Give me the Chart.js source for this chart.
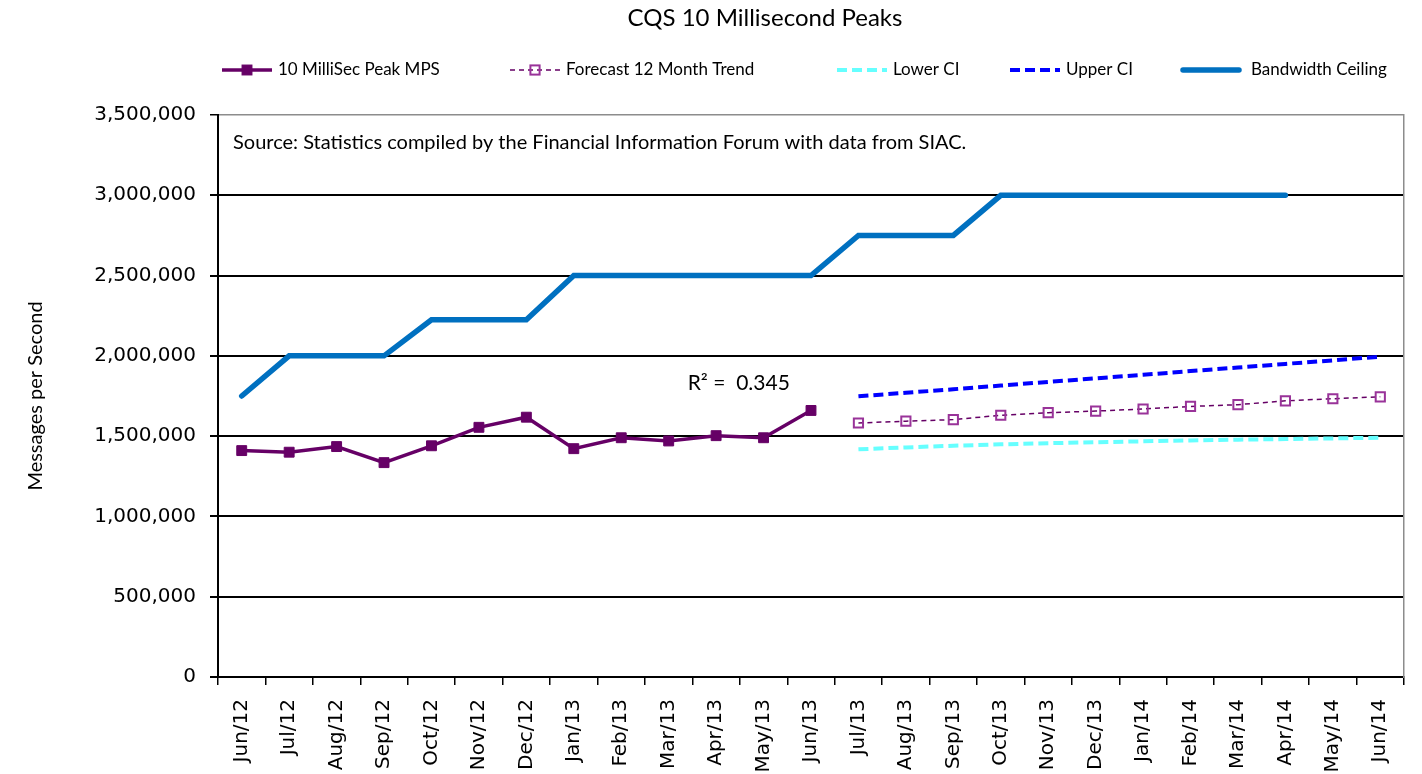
<!DOCTYPE html>
<html>
<head>
<meta charset="utf-8">
<title>CQS 10 Millisecond Peaks</title>
<script src="https://cdn.jsdelivr.net/npm/chart.js@4.4.1/dist/chart.umd.min.js"></script>
<style>
    html, body { margin: 0; padding: 0; background: #fff; }
    canvas { display: block; }
</style>
</head>
<body>
<canvas id="chartPeaks" width="1422" height="774"></canvas>
<script>
/* CQS 10 millisecond peaks – actuals, 12 month forecast and bandwidth ceiling */

// ---- Data ----
const months = [
    "Jun/12", "Jul/12", "Aug/12", "Sep/12", "Oct/12", "Nov/12", "Dec/12",
    "Jan/13", "Feb/13", "Mar/13", "Apr/13", "May/13", "Jun/13",
    "Jul/13", "Aug/13", "Sep/13", "Oct/13", "Nov/13", "Dec/13",
    "Jan/14", "Feb/14", "Mar/14", "Apr/14", "May/14", "Jun/14",
];

const peakMps = [
    1410000, 1400000, 1435000, 1335000, 1440000, 1555000, 1618000,
    1422000, 1490000, 1470000, 1503000, 1490000, 1660000,
    null, null, null, null, null, null, null, null, null, null, null, null,
];

const forecastTrend = [
    null, null, null, null, null, null, null, null, null, null, null, null, null,
    1582000, 1593000, 1603000, 1630000, 1646000, 1656000,
    1669000, 1685000, 1696000, 1720000, 1733000, 1745000,
];

const lowerCI = [
    null, null, null, null, null, null, null, null, null, null, null, null, null,
    1418000, 1430000, 1440000, 1449000, 1456000, 1462000,
    1468000, 1473000, 1478000, 1482000, 1486000, 1490000,
];

const upperCI = [
    null, null, null, null, null, null, null, null, null, null, null, null, null,
    1748000, 1770000, 1792000, 1815000, 1838000, 1860000,
    1882000, 1905000, 1927000, 1950000, 1972000, 1995000,
];

const bandwidthCeiling = [
    1750000, 2000000, 2000000, 2000000, 2225000, 2225000, 2225000,
    2500000, 2500000, 2500000, 2500000, 2500000, 2500000,
    2750000, 2750000, 2750000, 3000000, 3000000, 3000000,
    3000000, 3000000, 3000000, 3000000, null, null,
];

const yTicks = [0, 500000, 1000000, 1500000, 2000000, 2500000, 3000000, 3500000];

const TITLE = "CQS 10 Millisecond Peaks";
const SOURCE_NOTE = "Source: Statistics compiled by the Financial Information Forum with data from SIAC.";
const R2_LABEL = "R\u00B2 =  0.345";
const Y_TITLE = "Messages per Second";

// ---- Palette ----
const COLORS = {
    peak: "#660066",
    forecast: "#660066",
    forecastMarker: "#993399",
    lower: "#66FFFF",
    upper: "#0000FF",
    bandwidth: "#0070C0",
};

const UI_FONT = "Lato, 'Open Sans', sans-serif";
const TICK_FONT = "'DejaVu Sans', Verdana, sans-serif";

// ---- Title, legend and notes drawn on top ----
const overlayPlugin = {
    id: "overlay",
    afterDraw(chart) {
        const { ctx, chartArea, scales } = chart;
        ctx.save();
        ctx.fillStyle = "#000";

        // title
        ctx.font = "24px " + UI_FONT;
        ctx.textAlign = "center";
        ctx.textBaseline = "middle";
        ctx.fillText(TITLE, 765, 18);

        // legend
        const legendX = [222, 510, 837, 1010, 1183];
        const legendY = 70;
        ctx.font = "17px " + UI_FONT;
        ctx.textAlign = "left";
        chart.data.datasets.forEach(function (ds, i) {
            const x0 = legendX[i];
            const len = i === 4 ? 56 : 50;
            ctx.save();
            ctx.strokeStyle = ds.borderColor;
            ctx.lineWidth = ds.borderWidth;
            ctx.lineCap = ds.borderCapStyle || "butt";
            ctx.setLineDash(ds.borderDash || []);
            ctx.beginPath();
            ctx.moveTo(x0, legendY);
            ctx.lineTo(x0 + len, legendY);
            ctx.stroke();
            ctx.setLineDash([]);
            if (ds.pointRadius > 0) {
                const s = ds.pointRadius * Math.SQRT1_2;
                const cx = x0 + len / 2;
                if (ds.pointBackgroundColor !== "transparent") {
                    ctx.fillStyle = ds.pointBackgroundColor;
                    ctx.fillRect(cx - s, legendY - s, 2 * s, 2 * s);
                }
                ctx.strokeStyle = ds.pointBorderColor;
                ctx.lineWidth = ds.pointBorderWidth;
                ctx.strokeRect(cx - s, legendY - s, 2 * s, 2 * s);
            }
            ctx.restore();
            ctx.fillStyle = "#000";
            ctx.fillText(ds.label, x0 + len + (i === 4 ? 12 : 6), legendY);
        });

        // source note inside the plot
        ctx.font = "20px " + UI_FONT;
        ctx.fillText(SOURCE_NOTE, chartArea.left + 15, chartArea.top + 28);

        // trend R² label
        ctx.font = "21px " + UI_FONT;
        ctx.fillText(
            R2_LABEL,
            scales.x.getPixelForValue(9.4),
            scales.y.getPixelForValue(1830000),
        );
        ctx.restore();
    },
};

// ---- Chart ----
new Chart(document.getElementById("chartPeaks"), {
    type: "line",
    data: {
        labels: months,
        datasets: [
            {
                label: "10 MilliSec Peak MPS",
                data: peakMps,
                borderColor: COLORS.peak,
                borderWidth: 3.5,
                pointStyle: "rect",
                pointRadius: 7,
                pointBackgroundColor: COLORS.peak,
                pointBorderColor: COLORS.peak,
                pointBorderWidth: 1,
                tension: 0,
            },
            {
                label: "Forecast 12 Month Trend",
                data: forecastTrend,
                borderColor: COLORS.forecast,
                borderWidth: 1.5,
                borderDash: [5, 4],
                pointStyle: "rect",
                pointRadius: 6.5,
                pointBackgroundColor: "transparent",
                pointBorderColor: COLORS.forecastMarker,
                pointBorderWidth: 2,
                tension: 0,
            },
            {
                label: "Lower CI",
                data: lowerCI,
                borderColor: COLORS.lower,
                borderWidth: 4,
                borderDash: [10, 5],
                pointRadius: 0,
                tension: 0,
            },
            {
                label: "Upper CI",
                data: upperCI,
                borderColor: COLORS.upper,
                borderWidth: 4,
                borderDash: [10, 5],
                pointRadius: 0,
                tension: 0,
            },
            {
                label: "Bandwidth Ceiling",
                data: bandwidthCeiling,
                borderColor: COLORS.bandwidth,
                borderWidth: 5.5,
                borderCapStyle: "round",
                pointRadius: 0,
                tension: 0,
            },
        ],
    },
    options: {
        responsive: false,
        animation: false,
        devicePixelRatio: 1,
        layout: { padding: { top: 115, left: 10, right: 18, bottom: 0 } },
        plugins: {
            legend: { display: false },
            title: { display: false },
            tooltip: { enabled: false },
        },
        scales: {
            x: {
                offset: true,
                grid: {
                    offset: true,
                    drawOnChartArea: false,
                    tickLength: 8,
                    color: "#000",
                    lineWidth: 1.5,
                },
                border: { color: "#000", width: 2 },
                ticks: {
                    autoSkip: false,
                    minRotation: 90,
                    maxRotation: 90,
                    padding: 14,
                    color: "#000",
                    font: { family: TICK_FONT, size: 20 },
                },
                afterFit(scale) {
                    scale.height = 97;
                },
            },
            y: {
                min: 0,
                max: 3500000,
                afterBuildTicks(scale) {
                    scale.ticks = yTicks.map((v) => ({ value: v }));
                },
                grid: {
                    color: (c) => (c.tick && c.tick.value === 3500000 ? "#8c8c8c" : "#000"),
                    lineWidth: (c) => (c.tick && c.tick.value === 3500000 ? 1.5 : 2),
                    tickColor: "#000",
                    tickLength: 8,
                },
                border: { color: "#000", width: 2 },
                ticks: {
                    padding: 14,
                    color: "#000",
                    font: { family: TICK_FONT, size: 20 },
                    callback: (v) => Number(v).toLocaleString("en-US"),
                },
                title: {
                    display: true,
                    text: Y_TITLE,
                    color: "#000",
                    font: { family: UI_FONT, size: 20 },
                    padding: { top: 14, bottom: 0 },
                },
                afterFit(scale) {
                    scale.width = 208;
                },
            },
            yRight: {
                position: "right",
                min: 0,
                max: 3500000,
                grid: { display: false, drawTicks: false },
                ticks: { display: false },
                border: { color: "#8c8c8c", width: 1.5 },
                afterFit(scale) {
                    scale.width = 0;
                },
            },
        },
    },
    plugins: [overlayPlugin],
});
</script>
</body>
</html>
